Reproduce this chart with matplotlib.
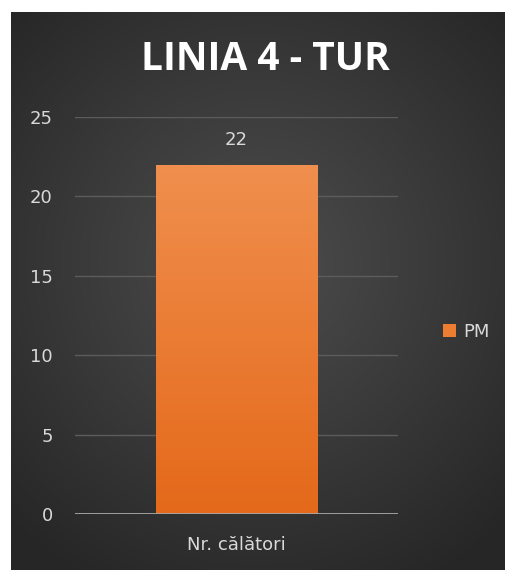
import matplotlib
matplotlib.use('Agg')
import matplotlib.pyplot as plt
import numpy as np
from matplotlib.colors import LinearSegmentedColormap

categories = ['Nr. călători']
values = [22]
series_name = 'PM'
title = 'LINIA 4 - TUR'
yticks = [0, 5, 10, 15, 20, 25]

W, H = 506, 570
fig = plt.figure(figsize=(W / 100, H / 100), dpi=100)
fig.patch.set_facecolor('white')

# dark radial background panel
bg = fig.add_axes([11 / W, 0, 1 - 11 / W, 1 - 12 / H])
bg.set_axis_off()
yy, xx = np.mgrid[-1:1:300j, -1:1:300j]
rr = np.sqrt(xx ** 2 + ((yy + 0.1) * 1.1) ** 2)
bg_cmap = LinearSegmentedColormap.from_list('bg', ['#4d4d4d', '#3a3a3a', '#262626'])
bg.imshow(rr, cmap=bg_cmap, aspect='auto', extent=[0, 1, 0, 1], vmin=0, vmax=1.45)
bg.set_xlim(0, 1)
bg.set_ylim(0, 1)

# plot area
x0, x1 = 75, 398
y0, y1 = 514, 117
ax = fig.add_axes([x0 / W, 1 - y0 / H, (x1 - x0) / W, (y0 - y1) / H])
ax.patch.set_alpha(0)
ax.set_ylim(0, 25)
ax.set_xlim(-0.5, 0.5)
ax.set_yticks(yticks)
ax.set_yticklabels([str(t) for t in yticks])
ax.tick_params(axis='y', length=0, pad=16, labelsize=13, labelcolor='#d9d9d9')
ax.tick_params(axis='x', length=0, pad=16, labelsize=13, labelcolor='#d9d9d9')
for s in ax.spines.values():
    s.set_visible(False)
ax.grid(axis='y', color='#5c5c5c', linewidth=1)
ax.set_axisbelow(True)
ax.axhline(0, color='#a6a6a6', linewidth=1.3, zorder=4)

xs = np.arange(len(categories))
bars = ax.bar(xs, values, width=0.5, color='#ed7d31', zorder=2, label=series_name)
ax.set_xticks(xs)
ax.set_xticklabels(categories)

# vertical gradient on the bar
bar_cmap = LinearSegmentedColormap.from_list('bar', ['#e4691a', '#f08f4e'])
for b in bars:
    grad = np.linspace(0, 1, 256).reshape(-1, 1)
    im = ax.imshow(grad, cmap=bar_cmap, origin='lower', aspect='auto',
                   extent=[b.get_x(), b.get_x() + b.get_width(), 0, b.get_height()], zorder=3)
    im.set_clip_path(b)
    ax.text(b.get_x() + b.get_width() / 2, b.get_height() + 1.0, str(int(b.get_height())),
            ha='center', va='bottom', fontsize=13, color='#d9d9d9')
ax.set_xlim(-0.5, 0.5)
ax.set_ylim(0, 25)

fig.text(265 / W, 1 - 59 / H, title, ha='center', va='center', fontsize=28,
         fontweight='bold', color='white', family='Open Sans')

leg = fig.legend(handles=[bars], labels=[series_name], loc='center left',
                 bbox_to_anchor=(427 / W, 1 - 332 / H), frameon=False,
                 handlelength=0.7, handleheight=0.7, handletextpad=0.4,
                 fontsize=13, labelcolor='#d9d9d9')

fig.savefig('out.png', dpi=100, facecolor='white')
